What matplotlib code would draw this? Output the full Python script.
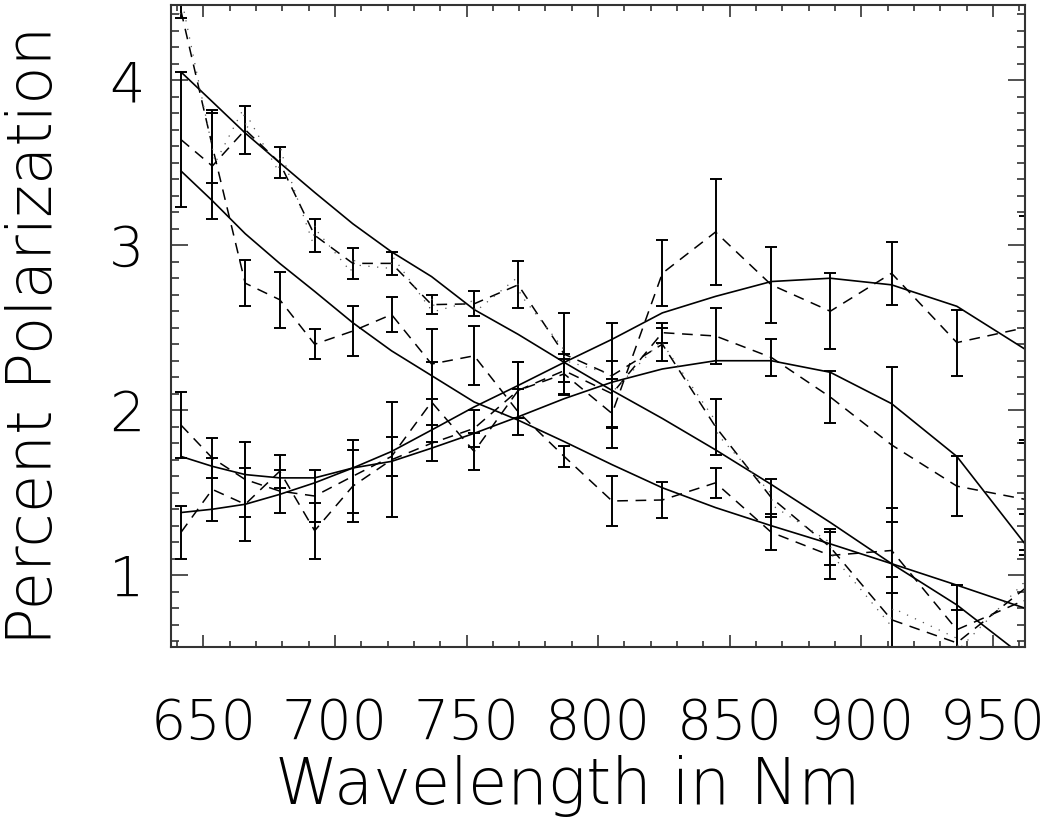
import matplotlib
matplotlib.use("Agg")
import matplotlib.pyplot as plt
from matplotlib.ticker import MultipleLocator

# wavelengths of the filter set (nm)
wl = [641.5, 653.4, 665.9, 679.0, 692.3, 706.8, 721.5, 736.7, 752.9, 769.6,
      787.1, 805.3, 824.4, 844.6, 865.8, 888.2, 911.5, 936.3, 962.2]

# object A: polarization rising to the red
pol_a = [1.91, 1.71, 1.58, 1.51, 1.48, 1.60, 1.72, 2.05, 1.75, 2.12,
         2.22, 1.98, 2.83, 3.08, 2.76, 2.60, 2.83, 2.41, 2.50]
err_a = [0.20, 0.12, 0.23, 0.13, 0.16, 0.22, 0.12, 0.24, 0.11, 0.17,
         0.12, 0.21, 0.20, 0.32, 0.23, 0.23, 0.19, 0.20, 0.68]
fit_a = [1.72, 1.66, 1.61, 1.59, 1.59, 1.65, 1.75, 1.88, 2.02, 2.15,
         2.29, 2.43, 2.59, 2.69, 2.78, 2.80, 2.76, 2.63, 2.37]

# object B
pol_b = [1.26, 1.52, 1.43, 1.63, 1.27, 1.54, 1.70, 1.80, 1.89, 2.12,
         2.24, 2.10, 2.47, 2.45, 2.32, 2.08, 1.79, 1.54, 1.46]
err_b = [0.16, 0.19, 0.22, 0.10, 0.17, 0.22, 0.35, 0.11, 0.11, 0.17,
         0.07, 0.20, 0.06, 0.17, 0.11, 0.16, 0.47, 0.18, 0.34]
fit_b = [1.38, 1.40, 1.43, 1.49, 1.56, 1.65, 1.69, 1.77, 1.86, 1.96,
         2.07, 2.17, 2.25, 2.30, 2.30, 2.23, 2.04, 1.72, 1.19]

# object C: falling to the red
pol_c = [3.64, 3.48, 3.70, 3.50, 3.06, 2.89, 2.89, 2.64, 2.645, 2.76,
         2.34, 2.21, 2.40, 1.90, 1.47, 1.17, 0.73, 0.59, 0.92]
err_c = [0.41, 0.32, 0.145, 0.095, 0.10, 0.095, 0.07, 0.056, 0.076, 0.143,
         0.25, 0.32, 0.10, 0.17, 0.116, 0.11, 0.26, 0.35, 0.45]
fit_c = [4.05, 3.87, 3.68, 3.50, 3.32, 3.13, 2.96, 2.81, 2.61, 2.46,
         2.29, 2.12, 1.95, 1.76, 1.55, 1.32, 1.07, 0.82, 0.50]

# object D
pol_d = [4.42, 3.60, 2.77, 2.67, 2.40, 2.48, 2.58, 2.28, 2.33, 1.99,
         1.72, 1.45, 1.456, 1.56, 1.26, 1.12, 1.15, 0.67, 0.85]
err_d = [0.04, 0.22, 0.14, 0.17, 0.09, 0.15, 0.106, 0.21, 0.18, 0.14,
         0.065, 0.15, 0.11, 0.09, 0.11, 0.14, 0.26, 0.12, 0.30]
fit_d = [3.45, 3.27, 3.07, 2.89, 2.72, 2.53, 2.36, 2.21, 2.05, 1.94,
         1.81, 1.67, 1.53, 1.41, 1.30, 1.19, 1.07, 0.94, 0.80]

# finer sampled spectrum of object C
hires_wl = [641.0, 642.5, 653.0, 654.5, 665.0, 666.5, 667.5, 678.5, 679.5, 680.5,
            691.5, 692.5, 693.5, 706.0, 707.0, 708.0, 721.0, 722.0, 736.0, 737.0,
            738.0, 752.0, 753.5, 769.0, 770.5, 786.5, 787.5, 804.5, 806.0, 824.0,
            825.5, 844.0, 845.5, 865.5, 866.5, 888.0, 889.0, 911.0, 912.0, 936.0,
            937.0, 961.5, 962.0]
hires_pol = [4.40, 4.43, 3.62, 3.50, 3.82, 3.70, 3.76, 3.45, 3.58, 3.52,
             3.02, 3.12, 3.08, 2.84, 2.93, 2.88, 2.86, 2.93, 2.62, 2.68,
             2.60, 2.66, 2.60, 2.80, 2.70, 2.38, 2.30, 2.22, 2.12, 2.42,
             2.38, 1.95, 1.85, 1.50, 1.42, 1.20, 1.12, 0.70, 0.80, 0.62,
             0.55, 0.95, 0.80]

font = ["DejaVu Sans"]

fig = plt.figure(figsize=(10.55, 8.35), dpi=100)
ax = fig.add_axes([171 / 1055, 1 - 647 / 835, (1025 - 171) / 1055, (647 - 5) / 835])

dash = (0, (7, 5))
for pol, err, fit in [(pol_a, err_a, fit_a), (pol_b, err_b, fit_b),
                      (pol_c, err_c, fit_c), (pol_d, err_d, fit_d)]:
    ax.errorbar(wl, pol, yerr=err, fmt="none", ecolor="black",
                elinewidth=1.4, capsize=4.5, capthick=1.4)
    ax.plot(wl, pol, color="black", lw=1.1, ls=dash)
    ax.plot(wl, fit, color="black", lw=1.2)

ax.plot(hires_wl, hires_pol, color="#555555", lw=0.9, ls=(0, (1, 6)))

ax.set_xlim(637.7, 962.2)
ax.set_ylim(0.565, 4.456)

ax.xaxis.set_major_locator(MultipleLocator(50))
ax.xaxis.set_minor_locator(MultipleLocator(10))
ax.yaxis.set_major_locator(MultipleLocator(1))
ax.yaxis.set_minor_locator(MultipleLocator(0.1))

ax.tick_params(axis="both", which="both", direction="in", top=True, right=True,
               color="#333333", width=1.2)
ax.tick_params(axis="x", which="major", length=8.6, pad=36)
ax.tick_params(axis="x", which="minor", length=4.3)
ax.tick_params(axis="y", which="major", length=12, pad=19)
ax.tick_params(axis="y", which="minor", length=6)
for lab in ax.get_xticklabels() + ax.get_yticklabels():
    lab.set_family(font)
    lab.set_fontsize(40)
    lab.set_fontweight("light")

for sp in ax.spines.values():
    sp.set_color("#333333")
    sp.set_linewidth(1.5)

fig.text(568 / 1055, 1 - 786 / 835, "Wavelength in Nm", ha="center", va="center",
         fontsize=46, family=font, fontweight="light")
fig.text(35 / 1055, 1 - 335 / 835, "Percent Polarization", ha="center", va="center",
         rotation=90, fontsize=45, family=font, fontweight="light")

fig.savefig("out.png", dpi=100)
